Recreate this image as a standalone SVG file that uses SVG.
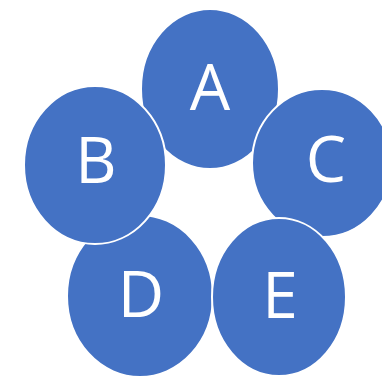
<svg xmlns="http://www.w3.org/2000/svg" width="382" height="378" viewBox="0 0 382 378">
<style>
.n{fill:#4472C4;stroke:#fff;stroke-width:2}
.t{fill:#fff;font-family:"Open Sans","Liberation Sans",sans-serif;font-size:64px;text-anchor:middle}
</style>
<rect width="382" height="378" fill="#fff"/>
<g id="connectors"/>
<g id="A"><ellipse class="n" cx="210" cy="89" rx="69" ry="80"/><text class="t" x="210" y="110">A</text></g>
<g id="D"><ellipse class="n" cx="140" cy="296" rx="73" ry="81"/><text class="t" x="141" y="317">D</text></g>
<g id="B"><ellipse class="n" cx="95" cy="165" rx="71" ry="79"/><text class="t" x="96" y="183">B</text></g>
<g id="C"><ellipse class="n" cx="322" cy="163" rx="70" ry="74"/><text class="t" x="326" y="182">C</text></g>
<g id="E"><ellipse class="n" cx="279" cy="297" rx="67" ry="79"/><text class="t" x="280" y="318">E</text></g>
</svg>
